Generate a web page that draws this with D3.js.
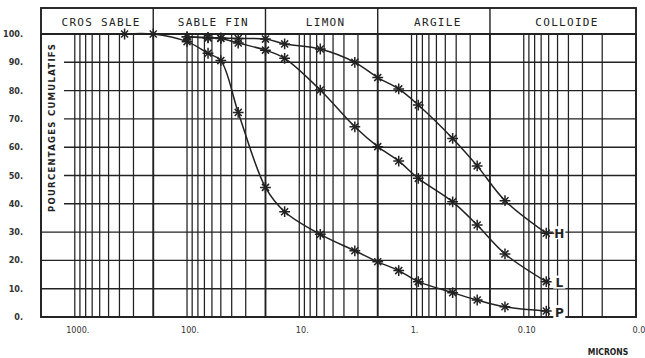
<!DOCTYPE html>
<html>
<head>
<meta charset="utf-8">
<script src="https://cdn.jsdelivr.net/npm/d3@7"></script>
<style>
  body { margin: 0; background: #fff; }
  svg { display: block; }
</style>
</head>
<body>
<div id="chart"></div>
<script>
// grain sizes (microns) shared by the three samples
var sizes   = [360, 200, 100, 65, 50, 35, 20, 13.5, 6.5, 3.2, 2, 1.3, 0.87, 0.43, 0.26, 0.147, 0.063]
var seriesP = [100, 100, 97.3, 93.2, 90.6, 72.3, 45.8, 37.2, 29.2, 23.4, 19.5, 16.4, 12.5, 8.6, 6.0, 3.6, 2.1]
var seriesL = [null, null, 99, 98.6, 98.4, 96.8, 94.3, 91.4, 80.2, 67.2, 60.2, 55.1, 49.0, 40.7, 32.5, 22.3, 12.5]
var seriesH = [null, null, 99, 98.8, 98.6, 98.4, 98.2, 96.5, 94.7, 90.0, 84.6, 80.6, 74.9, 63.1, 53.4, 41.1, 29.6]
var seriesNames = ['H', 'L', 'P']

var zoneNames  = ['CROS SABLE', 'SABLE FIN', 'LIMON', 'ARGILE', 'COLLOIDE']
var zoneLimits = [2000, 200, 20, 2, 0.2, 0.01]

var xTicks      = [1000, 100, 10, 1, 0.1, 0.01]
var xTickLabels = ['1000.', '100.', '10.', '1.', '0.10', '0.0']
var yTicks      = [0, 10, 20, 30, 40, 50, 60, 70, 80, 90, 100]

var width = 645
var height = 358
var padL = 41, padR = 636, padT = 34, padB = 317, headT = 8
var ink = '#222'

var x = d3.scaleLog().domain([2000, 0.01]).range([padL, padR])
var y = d3.scaleLinear().domain([0, 100]).range([padB, padT])

var svg = d3.select('#chart').append('svg')
  .attr('width', width)
  .attr('height', height)

svg.append('rect').attr('width', width).attr('height', height).attr('fill', '#fff')

// vertical log grid : 1..9 x 10^k
var gridVals = []
for (var k = -2; k <= 3; k++) {
  for (var m = 1; m <= 9; m++) {
    var v = m * Math.pow(10, k)
    if (v >= 0.01 && v <= 2000) gridVals.push(+v.toPrecision(3))
  }
}
var thick = zoneLimits.slice(1, -1)

svg.append('g').selectAll('line')
  .data(gridVals)
  .enter().append('line')
  .attr('x1', function(d) { return x(d) })
  .attr('x2', function(d) { return x(d) })
  .attr('y1', padT)
  .attr('y2', padB)
  .attr('stroke', ink)
  .attr('stroke-width', function(d) { return thick.indexOf(d) >= 0 ? 1.9 : 1.25 })

// horizontal grid
svg.append('g').selectAll('line')
  .data(yTicks)
  .enter().append('line')
  .attr('x1', padL)
  .attr('x2', padR)
  .attr('y1', function(d) { return y(d) })
  .attr('y2', function(d) { return y(d) })
  .attr('stroke', ink)
  .attr('stroke-width', function(d) { return d == 100 ? 1.9 : 1.4 })

// white band behind the vertical title
svg.append('rect')
  .attr('x', padL + 1).attr('y', padT + 1)
  .attr('width', 22).attr('height', y(40) - padT + 10)
  .attr('fill', '#fff')

// header with zones
svg.append('rect')
  .attr('x', padL).attr('y', headT)
  .attr('width', padR - padL).attr('height', padB - headT)
  .attr('fill', 'none').attr('stroke', ink).attr('stroke-width', 1.9)

svg.append('g').selectAll('line')
  .data(thick)
  .enter().append('line')
  .attr('x1', function(d) { return x(d) })
  .attr('x2', function(d) { return x(d) })
  .attr('y1', headT).attr('y2', padT)
  .attr('stroke', ink).attr('stroke-width', 1.4)

svg.append('g').selectAll('text')
  .data(zoneNames)
  .enter().append('text')
  .attr('x', function(d, i) { return (x(zoneLimits[i]) + x(zoneLimits[i + 1])) / 2 + 4 })
  .attr('y', 26)
  .attr('text-anchor', 'middle')
  .attr('font-family', 'DejaVu Sans Mono')
  .attr('font-size', 11)
  .attr('letter-spacing', 1.3)
  .attr('fill', ink)
  .text(function(d) { return d })

// y labels
svg.append('g').selectAll('text')
  .data(yTicks)
  .enter().append('text')
  .attr('x', 23)
  .attr('y', function(d) { return y(d) + 3 })
  .attr('text-anchor', 'end')
  .attr('font-family', 'DejaVu Sans Condensed')
  .attr('font-weight', 'bold')
  .attr('font-size', 9)
  .attr('fill', '#333')
  .text(function(d) { return d + '.' })

svg.append('text')
  .attr('transform', 'translate(' + (padL + 14) + ',' + 128 + ') rotate(-90)')
  .attr('text-anchor', 'middle')
  .attr('font-family', 'DejaVu Sans')
  .attr('font-weight', 'bold')
  .attr('font-size', 8.5)
  .attr('textLength', 168)
  .attr('lengthAdjust', 'spacing')
  .attr('fill', ink)
  .text('POURCENTAGES CUMULATIFS')

// x labels
svg.append('g').selectAll('text')
  .data(xTicks)
  .enter().append('text')
  .attr('x', function(d) { return x(d) + 3 })
  .attr('y', 333)
  .attr('text-anchor', 'middle')
  .attr('font-family', 'DejaVu Sans Condensed')
  .attr('font-size', 9)
  .attr('fill', '#333')
  .text(function(d, i) { return xTickLabels[i] })

svg.append('text')
  .attr('x', 608).attr('y', 355)
  .attr('text-anchor', 'middle')
  .attr('font-family', 'DejaVu Sans Condensed')
  .attr('font-weight', 'bold')
  .attr('font-size', 8.5)
  .attr('fill', ink)
  .text('MICRONS')

// curves
var allSeries = [seriesH, seriesL, seriesP]
var line = d3.line()
  .defined(function(d) { return d[1] != null })
  .x(function(d) { return x(d[0]) })
  .y(function(d) { return y(d[1]) })
  .curve(d3.curveCatmullRom.alpha(0.5))

var plus = d3.symbol().type(d3.symbolPlus).size(40)
var times = d3.symbol().type(d3.symbolTimes).size(34)

allSeries.forEach(function(vals, s) {
  var pts = sizes.map(function(d, i) { return [d, vals[i]] })
  svg.append('path')
    .attr('d', line(pts))
    .attr('fill', 'none')
    .attr('stroke', ink)
    .attr('stroke-width', 1.5)

  var g = svg.append('g').selectAll('g')
    .data(pts.filter(function(d) { return d[1] != null }))
    .enter().append('g')
    .attr('transform', function(d) { return 'translate(' + x(d[0]) + ',' + y(d[1]) + ')' })
  g.append('path').attr('d', plus).attr('fill', 'none').attr('stroke', ink).attr('stroke-width', 1.5)
  g.append('path').attr('d', times).attr('fill', 'none').attr('stroke', ink).attr('stroke-width', 1.5)

  // end label on a white patch that breaks the grid line
  var last = pts[pts.length - 1]
  var lx = x(last[0]) + 13
  var ly = y(last[1]) + (s == 0 ? 0 : 1)
  svg.append('rect')
    .attr('x', lx - 6).attr('y', ly - 7)
    .attr('width', 12).attr('height', 13)
    .attr('fill', '#fff')
  if (s == 0) {
    svg.append('line')
      .attr('x1', x(last[0]) + 4).attr('x2', lx - 5)
      .attr('y1', y(last[1])).attr('y2', y(last[1]))
      .attr('stroke', ink).attr('stroke-width', 1.4)
  }
  svg.append('text')
    .attr('x', lx).attr('y', ly + 4.5)
    .attr('text-anchor', 'middle')
    .attr('font-family', 'DejaVu Sans')
    .attr('font-weight', 'bold')
    .attr('font-size', 12)
    .attr('fill', ink)
    .text(seriesNames[s])
})
</script>
</body>
</html>
